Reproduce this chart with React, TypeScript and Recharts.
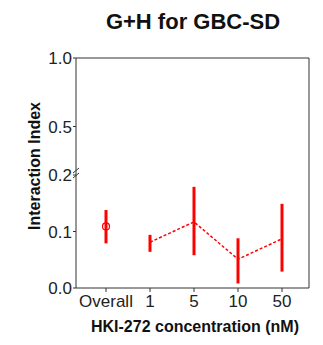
import React from 'react';
import { ComposedChart, Line, XAxis, YAxis, ErrorBar, ReferenceLine } from 'recharts';

const CATEGORIES = ['Overall', '1', '5', '10', '50'];
const OVERALL_MEAN = [0.109, null, null, null, null];
const OVERALL_LOW = [0.079, null, null, null, null];
const OVERALL_HIGH = [0.138, null, null, null, null];
const DOSE_MEAN = [null, 0.081, 0.117, 0.051, 0.087];
const DOSE_LOW = [null, 0.064, 0.058, 0.008, 0.029];
const DOSE_HIGH = [null, 0.094, 0.179, 0.088, 0.149];
const Y_TICKS = [0, 0.1, 0.2, 0.5, 1.0];
const Y_TICK_LABELS = ['0.0', '0.1', '0.2', '0.5', '1.0'];

// broken axis: piecewise mapping of value -> display units
const BREAK_VALUES = [0, 0.2, 0.5, 1.0];
const BREAK_DISPLAY = [0, 113, 161.5, 230];
function toDisplay(v: number): number {
  for (let i = 0; i < BREAK_VALUES.length - 1; i++) {
    const a = BREAK_VALUES[i], b = BREAK_VALUES[i + 1];
    if (v <= b || i === BREAK_VALUES.length - 2) {
      return BREAK_DISPLAY[i] + ((v - a) / (b - a)) * (BREAK_DISPLAY[i + 1] - BREAK_DISPLAY[i]);
    }
  }
  return 0;
}

const data = CATEGORIES.map((c, i) => {
  const om = OVERALL_MEAN[i];
  const dm = DOSE_MEAN[i];
  return {
    cat: c,
    overall: om == null ? null : toDisplay(om),
    overallErr: om == null ? null : [toDisplay(om) - toDisplay(OVERALL_LOW[i] as number), toDisplay(OVERALL_HIGH[i] as number) - toDisplay(om)],
    dose: dm == null ? null : toDisplay(dm),
    doseErr: dm == null ? null : [toDisplay(dm) - toDisplay(DOSE_LOW[i] as number), toDisplay(DOSE_HIGH[i] as number) - toDisplay(dm)],
  };
});

const FONT = 'Liberation Sans, Arial, sans-serif';
const RED = '#ff0000';
const AXIS = '#333';
const CHART_W = 323;
const CHART_H = 345;
const MARGIN = { top: 58, right: 14, left: 0, bottom: 0 };
const X_AXIS_H = 57;
const PLOT_H = CHART_H - MARGIN.top - MARGIN.bottom - X_AXIS_H;

const BreakMark = (props: any) => {
  const x = props.x1;
  const y = props.y1;
  return (
    <g>
      <rect x={x - 3} y={y - 5} width={6} height={5} fill="#fff" />
      <line x1={x - 3} y1={y - 2} x2={x + 3} y2={y - 7} stroke={AXIS} strokeWidth={1} />
      <line x1={x - 3} y1={y + 3} x2={x + 3} y2={y - 2} stroke={AXIS} strokeWidth={1} />
    </g>
  );
};

const TopRightFrame = (props: any) => {
  const { x1, y1, x2 } = props;
  return (
    <g>
      <line x1={x1} y1={y1} x2={x2} y2={y1} stroke={AXIS} strokeWidth={1} />
      <line x1={x2} y1={y1} x2={x2} y2={y1 + PLOT_H} stroke={AXIS} strokeWidth={1} />
    </g>
  );
};

export default function App() {
  return (
    <div style={{ position: 'absolute', left: 0, top: 0, width: CHART_W, height: CHART_H, background: '#fff' }}>
      <div
        style={{
          position: 'absolute',
          left: 0,
          top: 9,
          width: 386,
          textAlign: 'center',
          fontFamily: FONT,
          fontWeight: 'bold',
          fontSize: 22,
          color: '#111',
          lineHeight: '26px',
        }}
      >
        G+H for GBC-SD
      </div>
      <ComposedChart width={CHART_W} height={CHART_H} data={data} margin={MARGIN}>
        <XAxis
          dataKey="cat"
          height={X_AXIS_H}
          padding={{ left: 30, right: 27 }}
          stroke={AXIS}
          tickSize={4}
          tickMargin={3}
          interval={0}
          tick={{ fontFamily: FONT, fontSize: 17, fill: '#222' }}
          label={{
            content: () => (
              <text x={195} y={332} textAnchor="middle" fontFamily={FONT} fontWeight="bold" fontSize={16} fill="#111">
                HKI-272 concentration (nM)
              </text>
            ),
          }}
        />
        <YAxis
          type="number"
          width={76}
          domain={[0, 230]}
          ticks={Y_TICKS.map(toDisplay)}
          tickFormatter={(v: number, i: number) => Y_TICK_LABELS[i]}
          stroke={AXIS}
          tickSize={3}
          tickMargin={1}
          interval={0}
          allowDataOverflow
          tick={{ fontFamily: FONT, fontSize: 17, fill: '#222' }}
          label={{
            content: () => (
              <text
                x={40}
                y={166}
                transform="rotate(-90 40 166)"
                textAnchor="middle"
                fontFamily={FONT}
                fontWeight="bold"
                fontSize={16}
                fill="#111"
              >
                Interaction Index
              </text>
            ),
          }}
        />
        <ReferenceLine y={230} stroke="none" shape={TopRightFrame} ifOverflow="visible" />
        <ReferenceLine y={toDisplay(0.2)} stroke="none" shape={BreakMark} ifOverflow="visible" />
        <Line
          dataKey="dose"
          stroke={RED}
          strokeWidth={1.5}
          strokeDasharray="3 2"
          dot={false}
          activeDot={false}
          isAnimationActive={false}
          connectNulls
        >
          <ErrorBar dataKey="doseErr" width={0} stroke={RED} strokeWidth={3} direction="y" />
        </Line>
        <Line
          dataKey="overall"
          stroke={RED}
          strokeWidth={1.2}
          dot={{ r: 3.5, stroke: RED, strokeWidth: 1.2, fill: 'none' }}
          activeDot={false}
          isAnimationActive={false}
        >
          <ErrorBar dataKey="overallErr" width={0} stroke={RED} strokeWidth={3} direction="y" />
        </Line>
      </ComposedChart>
    </div>
  );
}
